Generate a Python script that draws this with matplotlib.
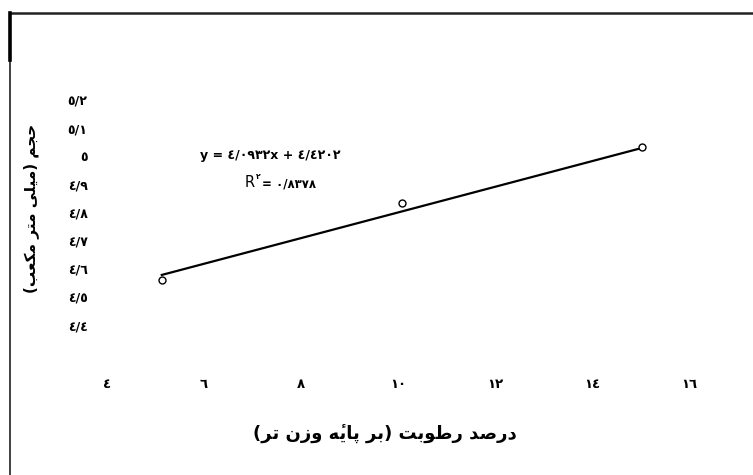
import numpy as np
import matplotlib
matplotlib.use("Agg")
import matplotlib.pyplot as plt
from matplotlib.lines import Line2D

# values
moisture = [5.13, 10.08, 15.04]
volume = [4.56, 4.833, 5.034]
trend_x = [5.13, 15.04]
trend_y = [4.578, 5.03]
x_ticks = [4, 6, 8, 10, 12, 14, 16]
x_tick_labels = ["٤", "٦", "٨", "١٠", "١٢", "١٤", "١٦"]
y_ticks = [4.4, 4.5, 4.6, 4.7, 4.8, 4.9, 5.0, 5.1, 5.2]
y_tick_labels = ["٤/٤", "٤/٥", "٤/٦", "٤/٧", "٤/٨", "٤/٩", "٥", "٥/١", "٥/٢"]
x_title = "درصد رطوبت (بر پایهٔ وزن تر)"
y_title = "حجم (میلی متر مکعب)"
eq_text = "y = ٤/٠٩٣٢x + ٤/٤٢٠٢"
r2_text = "٠/٨٣٧٨"

# small arabic shaper (matplotlib has no shaping / bidi)
# isolated, final, initial, medial
FORMS = {
    "ا": (0xFE8D, 0xFE8E, None, None),
    "ب": (0xFE8F, 0xFE90, 0xFE91, 0xFE92),
    "پ": (0xFB56, 0xFB57, 0xFB58, 0xFB59),
    "ت": (0xFE95, 0xFE96, 0xFE97, 0xFE98),
    "ج": (0xFE9D, 0xFE9E, 0xFE9F, 0xFEA0),
    "ح": (0xFEA1, 0xFEA2, 0xFEA3, 0xFEA4),
    "د": (0xFEA9, 0xFEAA, None, None),
    "ر": (0xFEAD, 0xFEAE, None, None),
    "ز": (0xFEAF, 0xFEB0, None, None),
    "ص": (0xFEB9, 0xFEBA, 0xFEBB, 0xFEBC),
    "ط": (0xFEC1, 0xFEC2, 0xFEC3, 0xFEC4),
    "ع": (0xFEC9, 0xFECA, 0xFECB, 0xFECC),
    "ک": (0xFB8E, 0xFB8F, 0xFB90, 0xFB91),
    "ل": (0xFEDD, 0xFEDE, 0xFEDF, 0xFEE0),
    "م": (0xFEE1, 0xFEE2, 0xFEE3, 0xFEE4),
    "ن": (0xFEE5, 0xFEE6, 0xFEE7, 0xFEE8),
    "ه": (0xFEE9, 0xFEEA, 0xFEEB, 0xFEEC),
    "و": (0xFEED, 0xFEEE, None, None),
    "ی": (0xFBFC, 0xFBFD, 0xFBFE, 0xFBFF),
}
MARKS = {"\u0654"}


def shape_rtl(text):
    chars = list(text)
    n = len(chars)
    shaped = []
    for i, c in enumerate(chars):
        if c not in FORMS:
            shaped.append(c)
            continue
        j = i - 1
        while j >= 0 and chars[j] in MARKS:
            j -= 1
        k = i + 1
        while k < n and chars[k] in MARKS:
            k += 1
        join_prev = j >= 0 and chars[j] in FORMS and FORMS[chars[j]][2] is not None
        join_next = FORMS[c][2] is not None and k < n and chars[k] in FORMS
        iso, fin, ini, med = FORMS[c]
        if join_prev and join_next:
            cp = med
        elif join_prev:
            cp = fin
        elif join_next:
            cp = ini
        else:
            cp = iso
        shaped.append(chr(cp))
    # group marks with their base, then reverse to visual order
    clusters = []
    for c in shaped:
        if c in MARKS and clusters:
            clusters[-1] += c
        else:
            clusters.append(c)
    clusters.reverse()
    mirror = {"(": ")", ")": "("}
    return "".join(mirror.get(c, c) for c in clusters)


W, H = 753, 475
fig = plt.figure(figsize=(W / 100, H / 100), dpi=100)
fig.patch.set_facecolor("white")

left, right, top, bottom = 107, 689, 100, 325
ax = fig.add_axes([left / W, 1 - bottom / H, (right - left) / W, (bottom - top) / H])
ax.set_xlim(4, 16)
ax.set_ylim(4.4, 5.2)
for s in ax.spines.values():
    s.set_visible(False)
ax.patch.set_alpha(0)

ax.set_xticks(x_ticks)
ax.set_xticklabels(x_tick_labels, fontsize=9.5, fontweight="bold")
ax.set_yticks(y_ticks)
ax.set_yticklabels(y_tick_labels, fontsize=9, fontweight="bold")
ax.tick_params(axis="x", length=0, pad=38)
ax.tick_params(axis="y", length=0, pad=14)

ax.plot(trend_x, trend_y, color="black", lw=1.6, zorder=2)
ax.plot(moisture, volume, "o", ms=5, mfc="white", mec="black", mew=1.0, zorder=3)

# equation and R^2
ax.text(0.16, 0.755, eq_text, transform=ax.transAxes, fontsize=9,
        fontweight="bold", ha="left", va="center")
ax.text(0.237, 0.635, "R", transform=ax.transAxes, fontsize=10.5,
        ha="left", va="center")
ax.text(0.256, 0.66, "٢", transform=ax.transAxes, fontsize=5.5,
        fontweight="bold", ha="left", va="center")
ax.text(0.266, 0.628, "= " + r2_text, transform=ax.transAxes, fontsize=8.5,
        fontweight="bold", ha="left", va="center")

# axis titles
fig.text(385 / W, 1 - 434 / H, shape_rtl(x_title), fontsize=13,
         fontweight="bold", ha="center", va="center")
fig.text(31 / W, 1 - 208 / H, shape_rtl(y_title), fontsize=11,
         fontweight="bold", ha="center", va="center", rotation=90)

# outer frame (top and left edges only)
fig.add_artist(Line2D([10 / W, 1], [1 - 13 / H, 1 - 13 / H], color="#222222", lw=1.8))
fig.add_artist(Line2D([10 / W, 10 / W], [0, 1 - 13 / H], color="#333333", lw=1.3))
fig.add_artist(Line2D([10 / W, 10 / W], [1 - 60 / H, 1 - 13 / H], color="black", lw=2.6))

fig.savefig("out.png", dpi=100, facecolor="white")
